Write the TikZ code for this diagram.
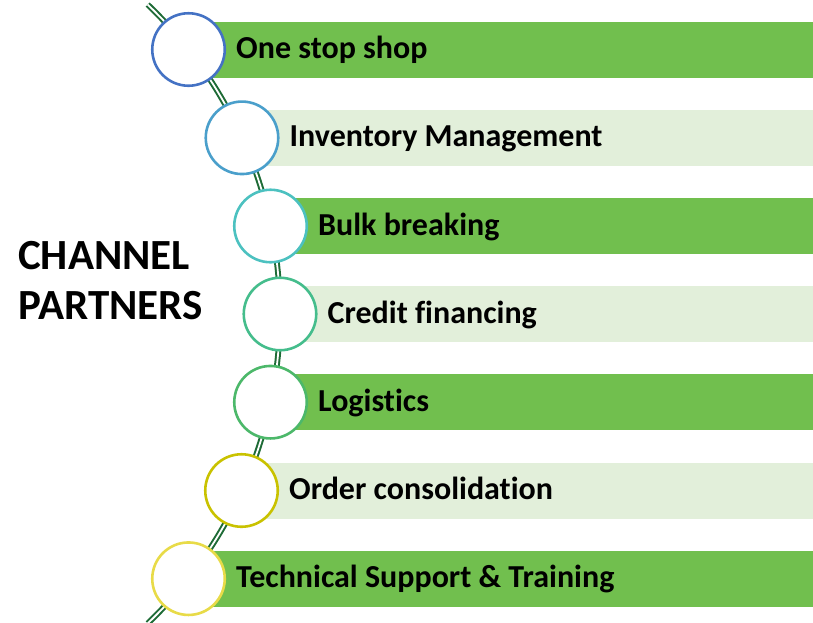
\documentclass[tikz,border=0pt]{standalone}
\usepackage{fontspec}
\setmainfont{Carlito}[Ligatures=NoCommon]
\begin{document}
\begin{tikzpicture}[x=1pt,y=-1pt,
  bardark/.style={fill=bardarkc},
  barlight/.style={fill=barlightc},
  bubble/.style={circle, draw, line width=2.6pt, fill=white, minimum size=72.5pt, inner sep=0pt},
  label/.style={anchor=base west, inner sep=0pt, font=\fontsize{32}{38}\selectfont\bfseries},
  spine/.style={draw=spinec, line width=2pt, double=white, double distance=1.8pt}
]
\definecolor{bardarkc}{HTML}{71BF4E}
\definecolor{barlightc}{HTML}{E2EFDA}
\definecolor{spinec}{HTML}{1E6B36}
\definecolor{ca}{HTML}{4472C4}
\definecolor{cb}{HTML}{4A9FCB}
\definecolor{cc}{HTML}{4CC1C0}
\definecolor{cd}{HTML}{45BD8C}
\definecolor{ce}{HTML}{4CB86A}
\definecolor{cf}{HTML}{C9C200}
\definecolor{cg}{HTML}{E8DB48}

\useasboundingbox (0,0) rectangle (813,622);

% band rows: centre x of the bubble, centre y of the row
\foreach \i/\cx/\cy/\sty in {1/188.5/49.5/bardark, 2/242/137.8/barlight, 3/270.5/226/bardark,
    4/280/314/barlight, 5/270.5/402.2/bardark, 6/241.5/490.5/barlight, 7/188.5/578.7/bardark}{
  \path[\sty] (\cx,\cy-28) rectangle (813,\cy+28);
}

% curved double spine through the bubble centres
\coordinate (spinetop) at ({-148+428*cos(-46.3)},{314+428*sin(-46.3)});
\coordinate (spinebot) at ({-148+428*cos(46.3)},{314+428*sin(46.3)});
\draw[spine] plot[domain=-46.3:46.3, samples=90, smooth] ({-148+428*cos(\x)},{314+428*sin(\x)});

% bubbles
\node[bubble, draw=ca] (c1) at (188.5,49.5) {};
\node[bubble, draw=cb] (c2) at (242,137.8) {};
\node[bubble, draw=cc] (c3) at (270.5,226) {};
\node[bubble, draw=cd] (c4) at (280,314) {};
\node[bubble, draw=ce] (c5) at (270.5,402.2) {};
\node[bubble, draw=cf] (c6) at (241.5,490.5) {};
\node[bubble, draw=cg] (c7) at (188.5,578.7) {};

% row labels
\node[label] (t1) at (236,58.5) {One stop shop};
\node[label] (t2) at (289.5,146.8) {Inventory Management};
\node[label] (t3) at (318,235) {Bulk breaking};
\node[label] (t4) at (327.5,323) {Credit financing};
\node[label] (t5) at (318,411.2) {Logistics};
\node[label] (t6) at (289,499.5) {Order consolidation};
\node[label] (t7) at (236,587.7) {Technical Support \& Training};

% heading
\node[anchor=west, align=left, inner sep=0pt, font=\fontsize{43}{50}\selectfont\bfseries] (head) at (18,281) {CHANNEL\\PARTNERS};
\end{tikzpicture}
\end{document}
